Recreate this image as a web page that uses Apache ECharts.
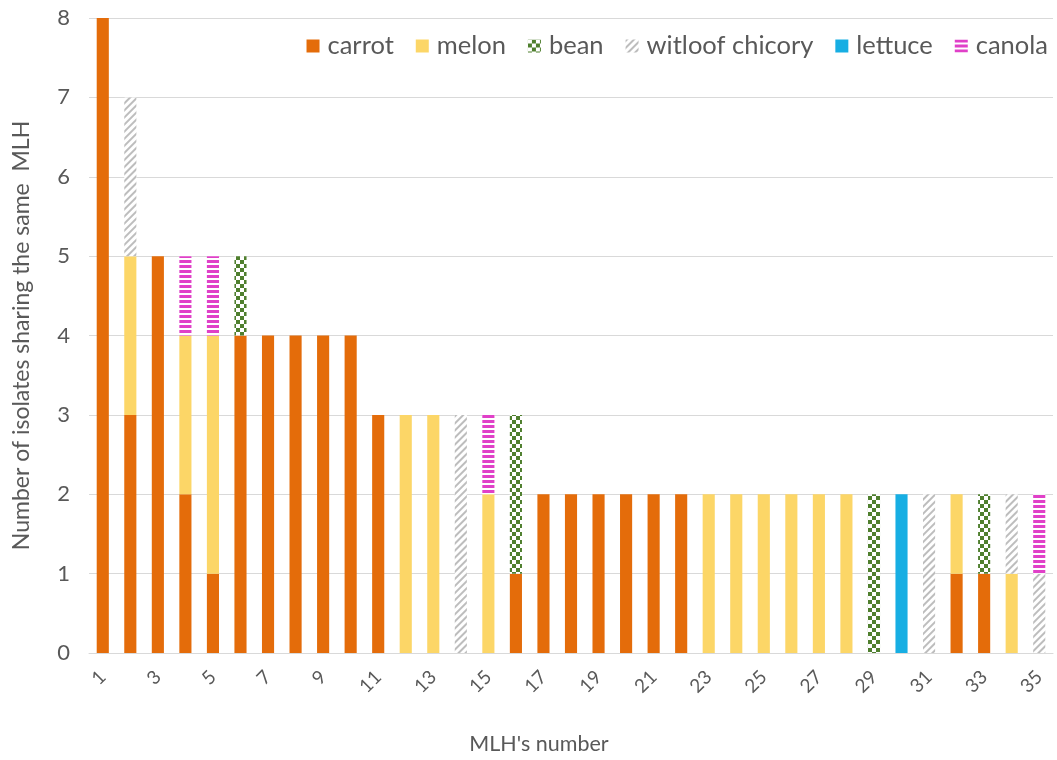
<!DOCTYPE html>
<html><head><meta charset="utf-8">
<script src="https://cdn.jsdelivr.net/npm/echarts@6/dist/echarts.min.js"></script>
<style>html,body{margin:0;padding:0;background:#fff}#c{width:1057px;height:760px}</style>
</head><body><div id="c"></div>
<script>
var categories = ['1','2','3','4','5','6','7','8','9','10','11','12','13','14','15','16','17','18','19','20','21','22','23','24','25','26','27','28','29','30','31','32','33','34','35'];
var carrot  = [8,3,5,2,1,4,4,4,4,4,3,0,0,0,0,1,2,2,2,2,2,2,0,0,0,0,0,0,0,0,0,1,1,0,0];
var melon   = [0,2,0,2,3,0,0,0,0,0,0,3,3,0,2,0,0,0,0,0,0,0,2,2,2,2,2,2,0,0,0,1,0,1,0];
var bean    = [0,0,0,0,0,1,0,0,0,0,0,0,0,0,0,2,0,0,0,0,0,0,0,0,0,0,0,0,2,0,0,0,1,0,0];
var witloof = [0,2,0,0,0,0,0,0,0,0,0,0,0,3,0,0,0,0,0,0,0,0,0,0,0,0,0,0,0,0,2,0,0,1,1];
var lettuce = [0,0,0,0,0,0,0,0,0,0,0,0,0,0,0,0,0,0,0,0,0,0,0,0,0,0,0,0,0,2,0,0,0,0,0];
var canola  = [0,0,0,1,1,0,0,0,0,0,0,0,0,0,1,0,0,0,0,0,0,0,0,0,0,0,0,0,0,0,0,0,0,0,1];
var yTicks = [0,1,2,3,4,5,6,7,8];

var txt = '#595959';
var font = 'Lato';
function ser(name, data, color, decal) {
  var s = {name: name, type: 'bar', stack: 'a', data: data, barWidth: '44%',
    itemStyle: {color: color}};
  if (decal) s.itemStyle.decal = decal;
  return s;
}
var chart = echarts.init(document.getElementById('c'));
chart.setOption({
  animation: false,
  backgroundColor: '#fff',
  textStyle: {fontFamily: font},
  legend: {
    right: 4, top: 28, itemWidth: 13, itemHeight: 13, itemGap: 22,
    icon: 'rect',
    textStyle: {color: txt, fontSize: 25.5, fontFamily: font, padding: [0, 0, 0, 3]}
  },
  grid: {left: 89, right: 4, top: 18, bottom: 104},
  xAxis: {
    type: 'category', data: categories,
    name: "MLH's number", nameLocation: 'middle', nameGap: 80,
    nameTextStyle: {color: txt, fontSize: 21.5, fontFamily: font, padding: [0, 64, 0, 0]},
    axisTick: {show: false},
    axisLine: {lineStyle: {color: '#D9D9D9'}},
    axisLabel: {interval: 1, rotate: 45, color: txt, fontSize: 19, margin: 21, fontFamily: font}
  },
  yAxis: {
    type: 'value', min: yTicks[0], max: yTicks[yTicks.length-1], interval: 1,
    name: 'Number of isolates sharing the same  MLH', nameLocation: 'middle', nameGap: 56,
    nameTextStyle: {color: txt, fontSize: 23, fontFamily: font},
    axisLabel: {color: txt, fontSize: 22, margin: 19, fontFamily: font},
    splitLine: {lineStyle: {color: '#D9D9D9'}}
  },
  series: [
    ser('carrot', carrot, '#E46C0A'),
    ser('melon', melon, '#FCD667'),
    ser('bean', bean, '#ffffff', {symbol: 'rect', symbolSize: 1, color: '#4F7F2E', dashArrayX: [[4,4],[0,4,4,0]], dashArrayY: [4,0], rotation: 0}),
    ser('witloof chicory', witloof, '#ffffff', {symbol: 'rect', symbolSize: 1, color: '#BDBDBD', dashArrayX: [1,0], dashArrayY: [2,3], rotation: -Math.PI/4}),
    ser('lettuce', lettuce, '#17AEE3'),
    ser('canola', canola, '#ffffff', {symbol: 'rect', symbolSize: 1, color: '#E040C8', dashArrayX: [1,0], dashArrayY: [3,2], rotation: 0})
  ]
});
</script></body></html>
